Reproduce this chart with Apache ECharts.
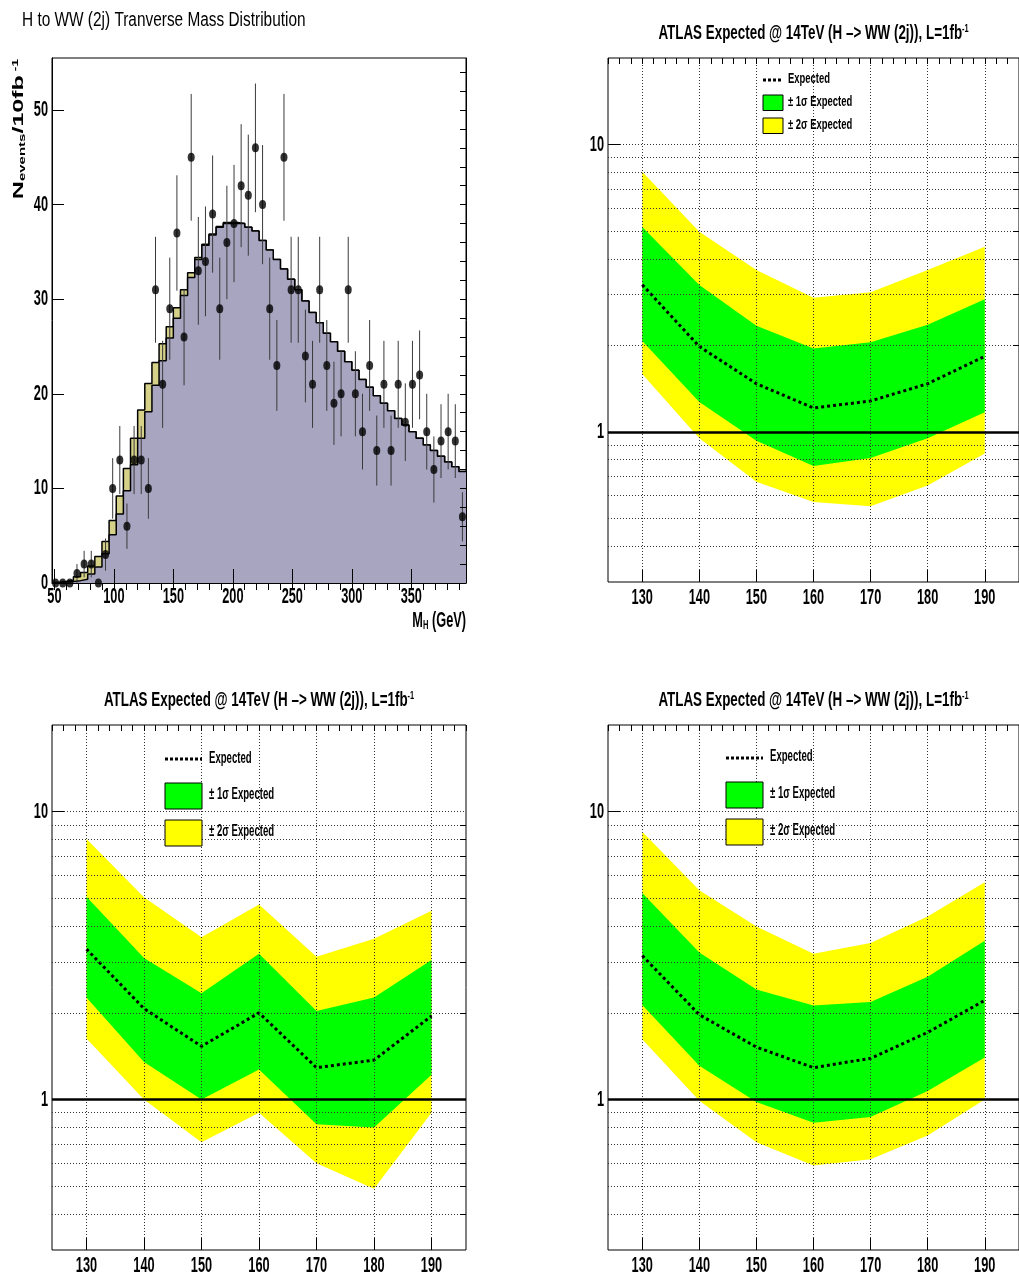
<!DOCTYPE html>
<html><head><meta charset="utf-8">
<script src="https://cdn.jsdelivr.net/npm/echarts@6/dist/echarts.min.js"></script>
<style>html,body{margin:0;padding:0;background:#fff}#c{width:1019px;height:1280px}</style>
</head><body><div id="c"></div>
<script>
// ---------------- DATA ----------------
// Top-left: transverse mass histogram (bin centers, GeV)
const histCenters = [51,57,63,69,75,81,87,93,99,105,111,117,123,129,135,141,147,153,159,165,171,177,183,189,195,201,207,213,219,225,231,237,243,249,255,261,267,273,279,285,291,297,303,309,315,321,327,333,339,345,351,357,363,369,375,381,387,393];
const binWidth = 6;
// background (purple) histogram
const histBkg = [0.05,0.1,0.15,0.25,0.4,0.95,1.7,3.1,5.1,7.3,9.75,12.5,15.3,18.1,20.9,23.5,25.9,28.0,30.4,32.3,34.2,35.7,36.8,37.6,38.0,38.0,38.0,37.6,37.2,36.2,35.2,34.2,33.2,32.1,31.0,29.8,28.6,27.5,26.4,25.5,24.5,23.4,22.5,21.5,20.7,19.8,19.0,18.2,17.4,16.7,16.0,15.3,14.6,14.0,13.4,12.8,12.3,11.8];
// total (khaki) histogram
const histTotal = [0.05,0.15,0.3,0.67,1.1,1.8,2.8,4.4,6.6,9.2,12.1,15.3,18.3,21.1,23.3,25.3,27.1,29.1,31.0,32.8,34.4,35.8,36.9,37.7,38.1,38.1,38.0,37.6,37.2,36.2,35.2,34.2,33.2,32.1,31.0,29.8,28.6,27.5,26.4,25.5,24.5,23.4,22.5,21.5,20.7,19.8,19.0,18.2,17.4,16.7,16.0,15.3,14.6,14.0,13.4,12.8,12.3,11.8];
// pseudo-data points and their errors
const dataCounts = [0,0,0,1,2,2,0,3,10,13,6,13,13,10,31,21,29,37,26,45,33,34,39,29,36,38,42,41,46,40,29,23,45,31,31,24,21,31,23,19,20,31,20,16,23,14,21,14,21,17,21,22,16,12,15,16,15,7];
const dataErrors = [0,0,0,1,1.4,1.4,0,1.7,3.2,3.6,2.4,3.6,3.6,3.2,5.6,4.6,5.4,6.1,5.1,6.7,5.7,5.8,6.2,5.4,6,6.2,6.5,6.4,6.8,6.3,5.4,4.8,6.7,5.6,5.6,4.9,4.6,5.6,4.8,4.4,4.5,5.6,4.5,4,4.8,3.7,4.6,3.7,4.6,4.1,4.6,4.7,4,3.5,3.9,4,3.9,2.6];
const histXTicks = [50,100,150,200,250,300,350];
const histYTicks = [0,10,20,30,40,50];

// Limit panels
const limitMass = [130,140,150,160,170,180,190];
// panel A (top right)
const expA = [3.25,1.98,1.47,1.21,1.28,1.47,1.83];
const p1A  = [5.16,3.24,2.34,1.95,2.05,2.36,2.89];
const m1A  = [2.07,1.27,0.93,0.76,0.81,0.95,1.17];
const p2A  = [8.03,4.97,3.66,2.93,3.06,3.66,4.41];
const m2A  = [1.59,0.95,0.67,0.57,0.55,0.65,0.84];
// panel C (bottom left)
const expC = [3.33,2.07,1.53,2.00,1.29,1.37,1.95];
const p1C  = [5.06,3.10,2.34,3.21,2.03,2.26,3.05];
const m1C  = [2.26,1.35,1.00,1.27,0.82,0.80,1.22];
const p2C  = [8.03,5.04,3.66,4.76,3.13,3.62,4.53];
const m2C  = [1.63,1.00,0.71,0.90,0.60,0.49,0.90];
// panel D (bottom right)
const expD = [3.16,1.97,1.52,1.29,1.39,1.71,2.21];
const p1D  = [5.22,3.24,2.41,2.12,2.18,2.67,3.56];
const m1D  = [2.13,1.31,0.98,0.83,0.87,1.07,1.40];
const p2D  = [8.51,5.33,3.99,3.21,3.50,4.32,5.68];
const m2D  = [1.62,0.99,0.71,0.59,0.62,0.75,1.00];
const limitXTicks = [130,140,150,160,170,180,190];
const limitYTicks = [1,10];
const limitYMinor = [0.4,0.5,0.6,0.7,0.8,0.9,2,3,4,5,6,7,8,9];
const limitRef = 1;
const titleTL = 'H to WW (2j) Tranverse Mass Distribution';
const titleLimit = 'ATLAS Expected @ 14TeV (H –> WW (2j)), L=1fb{sup|-1}';

// ---------------- STYLE ----------------
const FONT = '"Liberation Sans", Arial, Helvetica, sans-serif';
const PURPLE = '#a8a5c1', KHAKI = '#d6d189', GREEN = '#00ff00', YELLOW = '#ffff00';
const range = (a, b, s) => { const r = []; for (let v = a; v <= b + 1e-9; v += s) r.push(+v.toFixed(4)); return r; };

const grids = [
  {left:52,  top:58,  width:414, height:525},
  {left:608, top:58,  width:414, height:524},
  {left:52,  top:725, width:414, height:525},
  {left:608, top:725, width:414, height:525}
].map(g => Object.assign({show:true, borderColor:'#000', borderWidth:1, backgroundColor:'rgba(0,0,0,0)'}, g));

function tickAxis(base, values, len, extra) {
  return Object.assign({
    type:'value', splitLine:{show:false}, axisLabel:{show:false},
    axisLine:{show:false},
    axisTick:{show:true, inside:true, length:len, customValues:values, lineStyle:{color:'#000', width:1}}
  }, base, extra || {});
}

const xAxes = [], yAxes = [];
// TL
xAxes.push(tickAxis({gridIndex:0, min:48, max:396, z:10}, histXTicks, 14, {axisLine:{show:true, onZero:false, lineStyle:{color:'#000'}}}));
xAxes.push(tickAxis({gridIndex:0, min:48, max:396, z:10}, range(50,390,10), 7));
yAxes.push(tickAxis({gridIndex:0, min:0, max:55.5, z:10}, histYTicks, 12, {axisLine:{show:true, onZero:false, lineStyle:{color:'#000'}}}));
yAxes.push(tickAxis({gridIndex:0, min:0, max:55.5, z:10}, range(0,54,2), 6));
yAxes.push(tickAxis({gridIndex:0, min:0, max:55.5, z:10, position:'right'}, [], 0, {axisTick:{show:false}, axisLine:{show:true, onZero:false, lineStyle:{color:'#000'}}}));
// limit panels
for (let g = 1; g <= 3; g++) {
  xAxes.push(tickAxis({gridIndex:g, min:124, max:196, z:5}, limitXTicks, 12));
  xAxes.push(tickAxis({gridIndex:g, min:124, max:196, z:5}, range(124,196,2), 6));
  yAxes.push(tickAxis({gridIndex:g, type:'log', logBase:10, min:0.3, max:20, z:5}, limitYTicks, 12));
  yAxes.push(tickAxis({gridIndex:g, type:'log', logBase:10, min:0.3, max:20, z:5}, limitYMinor, 6));
}

const series = [];
// TL histogram
const edges = histCenters.map(c => c - binWidth / 2).concat([histCenters[histCenters.length - 1] + binWidth / 2]);
const stepData = vals => edges.map((e, i) => [e, vals[Math.min(i, vals.length - 1)]]);
series.push({type:'line', xAxisIndex:0, yAxisIndex:0, step:'end', data:stepData(histTotal), symbol:'none', z:2,
  lineStyle:{color:'#000', width:1.5}, areaStyle:{color:KHAKI, opacity:1}, silent:true});
series.push({type:'line', xAxisIndex:0, yAxisIndex:0, step:'end', data:stepData(histBkg), symbol:'none', z:3,
  lineStyle:{color:'#000', width:1.5}, areaStyle:{color:PURPLE, opacity:1}, silent:true});
series.push({type:'custom', xAxisIndex:0, yAxisIndex:0, z:4, silent:true, clip:false,
  data: histCenters.map((c, i) => [c, dataCounts[i] - dataErrors[i], dataCounts[i] + dataErrors[i]]),
  renderItem(params, api) {
    const a = api.coord([api.value(0), api.value(1)]);
    const b = api.coord([api.value(0), api.value(2)]);
    return {type:'line', shape:{x1:a[0], y1:a[1], x2:b[0], y2:b[1]}, style:{stroke:'#3a3a3a', lineWidth:1}};
  }});
series.push({type:'scatter', xAxisIndex:0, yAxisIndex:0, z:5, silent:true, clip:false,
  data: histCenters.map((c, i) => [c, dataCounts[i]]), symbol:'circle', symbolSize:[7,9], itemStyle:{color:'#000'}});

function bandSeries(xi, yi, lo, hi, color, z) {
  return {type:'custom', xAxisIndex:xi, yAxisIndex:yi, z, silent:true,
    data: limitMass.map((m, i) => [m, lo[i], hi[i]]),
    renderItem(params, api) {
      if (params.dataIndex !== 0) return null;
      const up = limitMass.map((m, i) => api.coord([m, hi[i]]));
      const dn = limitMass.map((m, i) => api.coord([m, lo[i]])).reverse();
      return {type:'polygon', shape:{points: up.concat(dn)}, style:{fill: color}};
    }};
}
function limitSeries(g, exp, p1, m1, p2, m2) {
  const xi = 2 * g, yi = 2 * g + 1;
  const grid = [];
  limitXTicks.forEach(v => grid.push({xAxis: v}));
  limitYMinor.concat(limitYTicks).forEach(v => grid.push({yAxis: v}));
  return [
    {type:'line', xAxisIndex:xi, yAxisIndex:yi, z:1, silent:true, symbol:'none',
      data: limitMass.map((m, i) => [m, exp[i]]), lineStyle:{opacity:0},
      markLine:{silent:true, symbol:'none', animation:false, label:{show:false},
        lineStyle:{type:[1,2], color:'#333', width:1}, data: grid}},
    bandSeries(xi, yi, m2, p2, YELLOW, 2),
    bandSeries(xi, yi, m1, p1, GREEN, 3),
    {type:'line', xAxisIndex:xi, yAxisIndex:yi, z:4, silent:true, symbol:'none',
      data: limitMass.map((m, i) => [m, exp[i]]), lineStyle:{color:'#000', width:3, type:[3,3]},
      markLine:{silent:true, symbol:'none', animation:false, label:{show:false},
        lineStyle:{type:'solid', color:'#000', width:2.5}, data:[{yAxis: limitRef}]}}
  ];
}
series.push(...limitSeries(1, expA, p1A, m1A, p2A, m2A));
series.push(...limitSeries(2, expC, p1C, m1C, p2C, m2C));
series.push(...limitSeries(3, expD, p1D, m1D, p2D, m2D));

const chart = echarts.init(document.getElementById('c'), null, {renderer:'canvas', width:1019, height:1280});
chart.setOption({animation:false, backgroundColor:'#fff', grid:grids, xAxis:xAxes, yAxis:yAxes, series});

// ---------------- TEXT ----------------
function txt(text, x, y, o) {
  o = o || {};
  const el = {type:'text', x, y, z:100, silent:true,
    scaleX: o.sx == null ? 0.58 : o.sx, scaleY: o.sy == null ? 1 : o.sy, rotation: o.rot || 0,
    style:{text, fill:'#000', font:(o.bold === false ? '' : 'bold ') + (o.size || 22) + 'px ' + FONT,
      textAlign:o.align || 'center', textVerticalAlign:o.va || 'middle', verticalAlign:o.va || 'middle'}};
  if (o.rich) el.style.rich = o.rich;
  return el;
}
const rs = (size, va) => ({fontSize:size, fontWeight:'bold', fontFamily:FONT, verticalAlign:va});
const gfx = [];
// TL
gfx.push(txt(titleTL, 22, 20, {bold:false, size:20, sx:0.77, align:'left'}));
const tlBottom = chart.convertToPixel({yAxisIndex:0}, 0);
const tlLeft = chart.convertToPixel({xAxisIndex:0}, 48);
histXTicks.forEach(v => gfx.push(txt(String(v), chart.convertToPixel({xAxisIndex:0}, v), tlBottom + 14)));
histYTicks.forEach(v => gfx.push(txt(String(v), tlLeft - 4, chart.convertToPixel({yAxisIndex:0}, v), {align:'right'})));
gfx.push(txt('{n|M}{s|H}{n| (GeV)}', chart.convertToPixel({xAxisIndex:0}, 396), tlBottom + 38,
  {align:'right', rich:{n:rs(22,'middle'), s:rs(13,'bottom')}}));
gfx.push(txt('{n|N}{s|events}{n|/10fb}{p| -1}', 19, 129,
  {rot:Math.PI/2, sx:1, sy:0.62, rich:{n:rs(25,'middle'), s:rs(15,'bottom'), p:rs(14,'top')}}));

// limit panels
const legendPos = [
  null,
  {x:763, w:20, yl:80, yg:95, yy:118, h:15.5, tx:788, t:[79,102,125], size:15, sx:0.63},
  {x:165, w:37, yl:759, yg:783, yy:820, h:26, tx:209, t:[759,795,832], size:16, sx:0.6},
  {x:726, w:37, yl:758, yg:782, yy:819, h:26, tx:770, t:[757,794,831], size:16, sx:0.6}
];
for (let g = 1; g <= 3; g++) {
  const xi = 2 * g, yi = 2 * g + 1;
  const bottom = chart.convertToPixel({yAxisIndex:yi}, 0.3);
  const top = chart.convertToPixel({yAxisIndex:yi}, 20);
  const left = chart.convertToPixel({xAxisIndex:xi}, 124);
  const right = chart.convertToPixel({xAxisIndex:xi}, 196);
  limitXTicks.forEach(v => gfx.push(txt(String(v), chart.convertToPixel({xAxisIndex:xi}, v), bottom + 16)));
  limitYTicks.forEach(v => gfx.push(txt(String(v), left - 4, chart.convertToPixel({yAxisIndex:yi}, v), {align:'right'})));
  gfx.push(txt(titleLimit, (left + right) / 2, top - 25, {size:20, sx:0.67, rich:{sup:rs(11,'top')}}));
  const L = legendPos[g];
  gfx.push({type:'line', z:100, shape:{x1:L.x, y1:L.yl, x2:L.x + L.w, y2:L.yl}, style:{stroke:'#000', lineWidth:3, lineDash:[3,2]}});
  gfx.push({type:'rect', z:100, shape:{x:L.x, y:L.yg, width:L.w, height:L.h}, style:{fill:GREEN, stroke:'#000', lineWidth:1}});
  gfx.push({type:'rect', z:100, shape:{x:L.x, y:L.yy, width:L.w, height:L.h}, style:{fill:YELLOW, stroke:'#000', lineWidth:1}});
  gfx.push(txt('Expected', L.tx, L.t[0], {align:'left', size:L.size, sx:L.sx}));
  gfx.push(txt('± 1σ Expected', L.tx, L.t[1], {align:'left', size:L.size, sx:L.sx}));
  gfx.push(txt('± 2σ Expected', L.tx, L.t[2], {align:'left', size:L.size, sx:L.sx}));
}
chart.setOption({graphic: gfx});
</script>
</body></html>
